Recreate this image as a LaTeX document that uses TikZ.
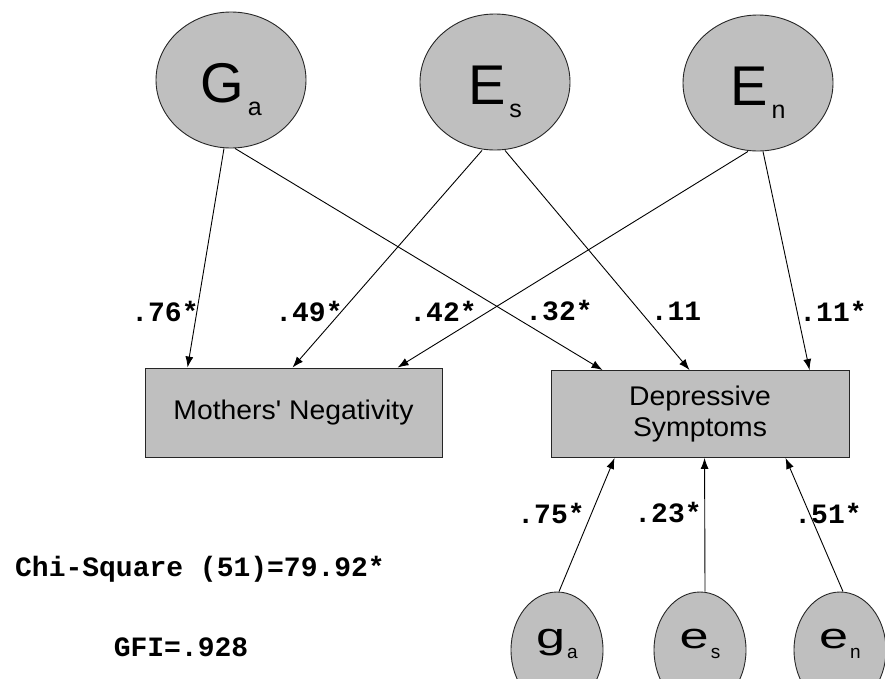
\documentclass[tikz,border=0pt]{standalone}
\usepackage{fontspec}
\setmainfont{Liberation Sans}
\newfontfamily\labelmono{Liberation Mono}
\newfontfamily\boxfont[FakeStretch=1.05]{Liberation Sans}
\newfontfamily\widefont[FakeStretch=1.45]{Liberation Sans}
\usetikzlibrary{arrows.meta,calc,shapes.geometric}

% factor label: large letter with a lowered subscript
\newcommand{\biglatent}[2]{\raisebox{-22pt}[0pt][0pt]{{\fontsize{56}{56}\selectfont #1}\hspace{4pt}\raisebox{-13pt}{\fontsize{25}{25}\selectfont #2}}}
\newcommand{\smalllatent}[2]{\raisebox{2pt}[0pt][0pt]{{\widefont\fontsize{36}{36}\selectfont #1}\hspace{2pt}\raisebox{-10pt}{\fontsize{19}{19}\selectfont #2}}}

\begin{document}
\begin{tikzpicture}[x=1pt,y=-1pt,
  shade/.style={fill=black!25, draw=black!85, line width=0.9pt},
  bigvar/.style={shade, ellipse, inner sep=0pt, minimum width=150pt, minimum height=136pt},
  smallvar/.style={shade, ellipse, inner sep=0pt, minimum width=92pt, minimum height=116pt},
  measure/.style={shade, rectangle, inner sep=0pt, align=center, font=\boxfont\fontsize{27}{28}\selectfont},
  path/.style={line width=0.9pt, -{Latex[length=11pt,width=8pt]}},
  coef/.style={font=\labelmono\bfseries\fontsize{28}{28}\selectfont, inner sep=0pt},
  fit/.style={font=\labelmono\bfseries\fontsize{28}{28}\selectfont, inner sep=0pt}
]
\useasboundingbox (0,0) rectangle (885,678);
\begin{scope}
\clip (0,0) rectangle (885,678);

% latent factors
\node[bigvar] (Ga) at (231,80) {\biglatent{G}{a}};
\node[bigvar] (Es) at (495,82) {\biglatent{E}{s}};
\node[bigvar] (En) at (758,83) {\biglatent{E}{n}};

% observed measures
\node[measure, minimum width=297pt, minimum height=89pt] (MN) at (293.5,412.5) {Mothers' Negativity};
\node[measure, minimum width=298pt, minimum height=87pt] (DS) at (700,414) {Depressive\\[3pt]Symptoms};

% residual factors
\node[smallvar] (ga) at (557,650) {\smalllatent{g}{a}};
\node[smallvar] (es) at (700,650) {\smalllatent{e}{s}};
\node[smallvar] (en) at (840,650) {\smalllatent{e}{n}};
\end{scope}

% paths from the latent factors
\draw[path] ($(Ga.south)+(-7,0)$) -- ($(MN.north west)+(43,0)$);
\draw[path] ($(Ga.south)+(4,0)$) -- ($(DS.north west)+(52,0)$);
\draw[path] ($(Es.south)+(-13,0)$) -- ($(MN.north west)+(148,0)$);
\draw[path] ($(Es.south)+(10,0)$) -- ($(DS.north west)+(139,0)$);
\draw[path] ($(En.south)+(-10,0)$) -- ($(MN.north west)+(253,0)$);
\draw[path] ($(En.south)+(5,0)$) -- ($(DS.north west)+(259,0)$);

% paths from the residual factors
\draw[path] ($(ga.north)+(2,0)$) -- ($(DS.south west)+(64,0)$);
\draw[path] ($(es.north)+(5,0)$) -- ($(DS.south west)+(154,0)$);
\draw[path] ($(en.north)+(3,0)$) -- ($(DS.south west)+(235,0)$);

% path coefficients
\node[coef] (c1) at (165,311) {.76*};
\node[coef] (c2) at (309,311) {.49*};
\node[coef] (c3) at (443,311) {.42*};
\node[coef] (c4) at (559,311) {.32*};
\node[coef] (c5) at (676,311) {.11};
\node[coef] (c6) at (833,311) {.11*};
\node[coef] (c7) at (551,513) {.75*};
\node[coef] (c8) at (668,513) {.23*};
\node[coef] (c9) at (828,513) {.51*};

% model fit
\node[fit] (chi) at (200,569) {Chi-Square (51)=79.92*};
\node[fit] (gfi) at (181,647) {GFI=.928};
\end{tikzpicture}
\end{document}
